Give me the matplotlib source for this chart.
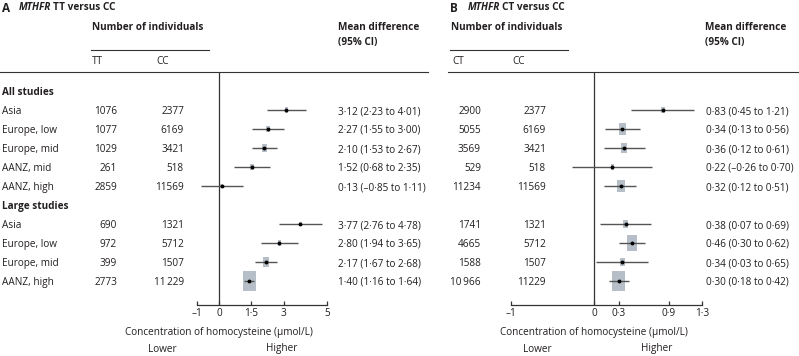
import matplotlib
matplotlib.use("Agg")
import matplotlib.pyplot as plt
from matplotlib.lines import Line2D
from matplotlib.patches import Rectangle
from matplotlib.transforms import blended_transform_factory
import numpy as np

# ---------------- data ----------------
labels_all = ["Asia", "Europe, low", "Europe, mid", "AANZ, mid", "AANZ, high"]
labels_large = ["Asia", "Europe, low", "Europe, mid", "AANZ, high"]

# Panel A: MTHFR TT versus CC
A_n_tt_all = ["1076", "1077", "1029", "261", "2859"]
A_n_cc_all = ["2377", "6169", "3421", "518", "11569"]
A_md_all = [3.12, 2.27, 2.10, 1.52, 0.13]
A_lo_all = [2.23, 1.55, 1.53, 0.68, -0.85]
A_hi_all = [4.01, 3.00, 2.67, 2.35, 1.11]
A_n_tt_large = ["690", "972", "399", "2773"]
A_n_cc_large = ["1321", "5712", "1507", "11\u2009229"]
A_md_large = [3.77, 2.80, 2.17, 1.40]
A_lo_large = [2.76, 1.94, 1.67, 1.16]
A_hi_large = [4.78, 3.65, 2.68, 1.64]
A_ticks = [-1, 0, 1.5, 3, 5]
A_ticklabels = ["\u20131", "0", "1\u00b75", "3", "5"]

# Panel B: MTHFR CT versus CC
B_n_ct_all = ["2900", "5055", "3569", "529", "11234"]
B_n_cc_all = ["2377", "6169", "3421", "518", "11569"]
B_md_all = [0.83, 0.34, 0.36, 0.22, 0.32]
B_lo_all = [0.45, 0.13, 0.12, -0.26, 0.12]
B_hi_all = [1.21, 0.56, 0.61, 0.70, 0.51]
B_n_ct_large = ["1741", "4665", "1588", "10\u2009966"]
B_n_cc_large = ["1321", "5712", "1507", "11229"]
B_md_large = [0.38, 0.46, 0.34, 0.30]
B_lo_large = [0.07, 0.30, 0.03, 0.18]
B_hi_large = [0.69, 0.62, 0.65, 0.42]
B_ticks = [-1, 0, 0.3, 0.9, 1.3]
B_ticklabels = ["\u20131", "0", "0\u00b73", "0\u00b79", "1\u00b73"]

# ---------------- style ----------------
W, H = 799, 356
plt.rcParams['font.family'] = ['Open Sans', 'DejaVu Sans']
FS = 7.2
FSB = 7.2
TXT = '#231f20'
SQ = '#b6bfc8'
CIC = '#555555'

fig = plt.figure(figsize=(W / 100, H / 100), dpi=100)
fig.patch.set_facecolor('white')

def fx(x):
    return x / W

def fy(y):
    return 1 - y / H

ROW0, ROWH = 110, 19
TOP, BOT = 72, 305

def make_axes(zero_px, ppu, xmin, xmax):
    left = zero_px + xmin * ppu
    right = zero_px + xmax * ppu
    ax = fig.add_axes([fx(left), fy(BOT), (right - left) / W, (BOT - TOP) / H])
    ax.set_xlim(xmin, xmax)
    ax.set_ylim((BOT - ROW0) / ROWH, (TOP - ROW0) / ROWH)
    ax.patch.set_alpha(0)
    for s in ['top', 'right', 'left']:
        ax.spines[s].set_visible(False)
    ax.spines['bottom'].set_color('#333333')
    ax.spines['bottom'].set_linewidth(0.9)
    ax.set_yticks([])
    ax.tick_params(axis='x', direction='in', length=3.2, width=0.9, color='#333333',
                   pad=2.3, labelsize=FS, labelcolor=TXT)
    ax.axvline(0, color='#333333', lw=0.9)
    return ax

axA = make_axes(219, 21.6, -1, 5)
axB = make_axes(594, 83.0, -1, 1.3)
ytr = blended_transform_factory(fig.transFigure, axA.transData)

def fmt(v):
    s = f"{abs(v):.2f}".replace(".", "\u00b7")
    return ("\u2013" + s) if v < 0 else s

def draw_panel(ax, ppu, n1_all, n2_all, md_all, lo_all, hi_all,
               n1_large, n2_large, md_large, lo_large, hi_large,
               x_n1, x_n2, x_md):
    rows = list(range(0, 5)) + list(range(6, 10))
    md = md_all + md_large
    lo = lo_all + lo_large
    hi = hi_all + hi_large
    n1 = n1_all + n1_large
    n2 = n2_all + n2_large
    wts = 1.0 / (np.array(hi) - np.array(lo)) ** 2
    rel = np.sqrt(wts / wts.max())
    for r, m, l, h, s, a, b in zip(rows, md, lo, hi, rel, n1, n2):
        wpx = 13.0 * s
        hpx = 1.55 * wpx
        wd = wpx / ppu
        hd = hpx / ROWH
        ax.add_patch(Rectangle((m - wd / 2, r - hd / 2), wd, hd, facecolor=SQ,
                               edgecolor='none', zorder=2))
        ax.plot([l, h], [r, r], color=CIC, lw=1.0, zorder=3, solid_capstyle='butt')
        ax.plot([m], [r], marker='o', ms=2.8, color='black', mew=0, zorder=4)
        fig.text(fx(x_n1), r, a, transform=ytr, ha='right', va='center_baseline',
                 fontsize=FS, color=TXT)
        fig.text(fx(x_n2), r, b, transform=ytr, ha='right', va='center_baseline',
                 fontsize=FS, color=TXT)
        fig.text(fx(x_md), r, f"{fmt(m)} ({fmt(l)} to {fmt(h)})", transform=ytr,
                 ha='left', va='center_baseline', fontsize=FS, color=TXT)

# Row labels (panel A only)
fig.text(fx(2), -1, "All studies", transform=ytr, ha='left', va='center_baseline',
         fontsize=FSB, color=TXT, fontweight='bold')
fig.text(fx(2), 5, "Large studies", transform=ytr, ha='left', va='center_baseline',
         fontsize=FSB, color=TXT, fontweight='bold')
for i, lab in enumerate(labels_all):
    fig.text(fx(2), i, lab, transform=ytr, ha='left', va='center_baseline',
             fontsize=FS, color=TXT)
for i, lab in enumerate(labels_large):
    fig.text(fx(2), 6 + i, lab, transform=ytr, ha='left', va='center_baseline',
             fontsize=FS, color=TXT)

draw_panel(axA, 21.6, A_n_tt_all, A_n_cc_all, A_md_all, A_lo_all, A_hi_all,
           A_n_tt_large, A_n_cc_large, A_md_large, A_lo_large, A_hi_large,
           117, 184, 338)
draw_panel(axB, 83.0, B_n_ct_all, B_n_cc_all, B_md_all, B_lo_all, B_hi_all,
           B_n_ct_large, B_n_cc_large, B_md_large, B_lo_large, B_hi_large,
           481, 546, 706)

axA.set_xticks(A_ticks)
axA.set_xticklabels(A_ticklabels)
axB.set_xticks(B_ticks)
axB.set_xticklabels(B_ticklabels)

# Titles
tA = fig.text(fx(19), fy(8), "MTHFR", ha='left', va='center', fontsize=FSB,
              fontweight='bold', fontstyle='italic', color=TXT)
fig.text(fx(2), fy(8), "A", ha='left', va='center', fontsize=8.5, fontweight='bold', color=TXT)
axA.annotate("\u2009TT versus CC", xy=(1, 0.5), xycoords=tA, ha='left', va='center',
             fontsize=FSB, fontweight='bold', color=TXT, annotation_clip=False)
tB = fig.text(fx(468), fy(8), "MTHFR", ha='left', va='center', fontsize=FSB,
              fontweight='bold', fontstyle='italic', color=TXT)
fig.text(fx(450), fy(8), "B", ha='left', va='center', fontsize=8.5, fontweight='bold', color=TXT)
axB.annotate("\u2009CT versus CC", xy=(1, 0.5), xycoords=tB, ha='left', va='center',
             fontsize=FSB, fontweight='bold', color=TXT, annotation_clip=False)

# Headers
for xn, xm, c1, xc1, xc2, xl0, xl1 in [(92, 338, "TT", 92, 156, 91, 209),
                                      (451, 705, "CT", 452, 512, 450, 568)]:
    fig.text(fx(xn), fy(27), "Number of individuals", ha='left', va='center',
             fontsize=FSB, fontweight='bold', color=TXT)
    fig.text(fx(xm), fy(27), "Mean difference", ha='left', va='center',
             fontsize=FSB, fontweight='bold', color=TXT)
    fig.text(fx(xm), fy(43), "(95% CI)", ha='left', va='center',
             fontsize=FSB, fontweight='bold', color=TXT)
    fig.text(fx(xc1), fy(62), c1, ha='left', va='center', fontsize=FS, color=TXT)
    fig.text(fx(xc2), fy(62), "CC", ha='left', va='center', fontsize=FS, color=TXT)
    fig.add_artist(Line2D([fx(xl0), fx(xl1)], [fy(49.5), fy(49.5)], color='#333333',
                          lw=0.8, transform=fig.transFigure))

fig.add_artist(Line2D([fx(0), fx(428)], [fy(72), fy(72)], color='#333333', lw=0.8,
                      transform=fig.transFigure))
fig.add_artist(Line2D([fx(448), fx(799)], [fy(72), fy(72)], color='#333333', lw=0.8,
                      transform=fig.transFigure))

# Axis labels
for z in (219, 594):
    fig.text(fx(z), fy(332), "Concentration of homocysteine (\u00b5mol/L)", ha='center',
             va='center', fontsize=FS, color=TXT)
    fig.text(fx(z - 57), fy(349), "Lower", ha='center', va='center', fontsize=FS, color=TXT)
    fig.text(fx(z + 63), fy(349), "Higher", ha='center', va='center', fontsize=FS, color=TXT)

fig.savefig("out.png", dpi=100, facecolor='white')
